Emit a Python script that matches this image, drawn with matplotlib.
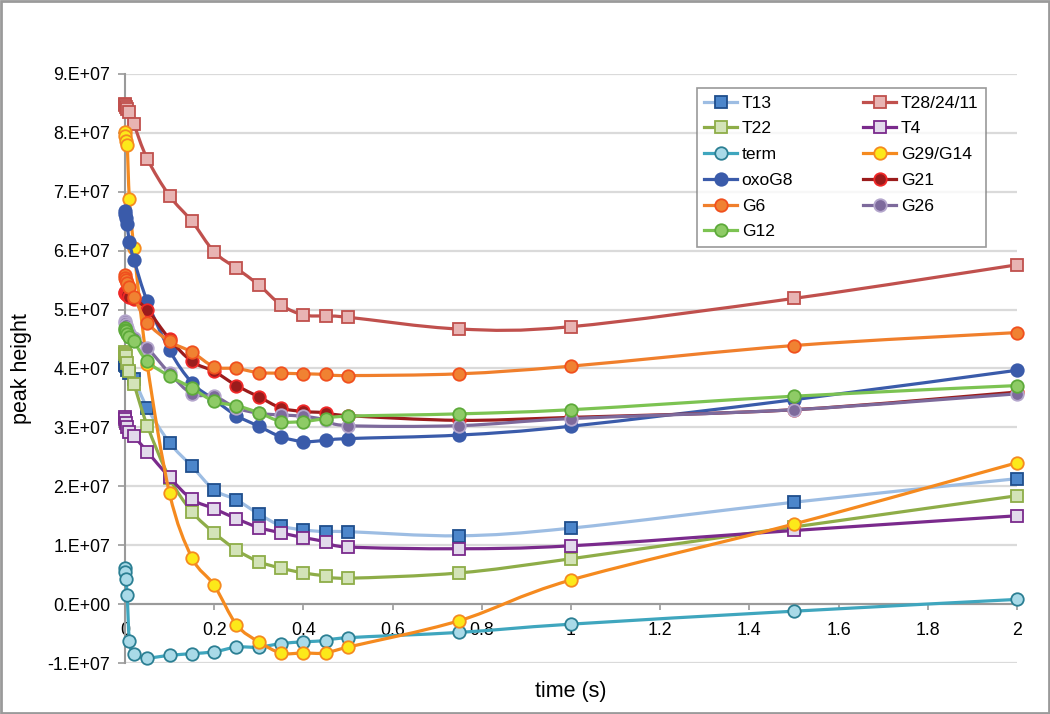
"""
Peak height vs time, smoothed Excel-style lines with markers.
"""
import matplotlib

matplotlib.use('Agg')

import matplotlib.pyplot as plt
import numpy as np
from matplotlib.lines import Line2D
from matplotlib.patches import PathPatch, Rectangle
from matplotlib.path import Path

plt.rcParams['font.family'] = ['Liberation Sans', 'DejaVu Sans']

# ---------------------------------------------------------------------------
# data (peak height in units of 1e7)
# ---------------------------------------------------------------------------
SCALE = 1e7
time_s = [0, 0.001, 0.002, 0.005, 0.01, 0.02, 0.05, 0.1, 0.15, 0.2, 0.25,
          0.3, 0.35, 0.4, 0.45, 0.5, 0.75, 1, 1.5, 2]

t13 = [4.08, 4.06, 4.04, 3.98, 3.92, 3.83, 3.33, 2.74, 2.34, 1.94, 1.77,
       1.53, 1.33, 1.26, 1.23, 1.23, 1.16, 1.29, 1.73, 2.13]
t28 = [8.49, 8.47, 8.44, 8.40, 8.36, 8.15, 7.56, 6.93, 6.50, 5.98, 5.70,
       5.42, 5.08, 4.91, 4.89, 4.87, 4.67, 4.71, 5.19, 5.76]
t22 = [4.28, 4.25, 4.22, 4.10, 3.95, 3.74, 3.03, 2.14, 1.57, 1.21, 0.92,
       0.72, 0.61, 0.53, 0.48, 0.44, 0.53, 0.77, 1.31, 1.84]
t4 = [3.18, 3.14, 3.08, 3.00, 2.93, 2.85, 2.59, 2.15, 1.78, 1.62, 1.45,
      1.30, 1.21, 1.13, 1.06, 0.97, 0.94, 0.99, 1.25, 1.50]
term = [0.62, 0.55, 0.42, 0.15, -0.62, -0.84, -0.91, -0.87, -0.84, -0.81,
        -0.73, -0.73, -0.67, -0.64, -0.62, -0.57, -0.48, -0.34, -0.12, 0.08]
g29 = [8.02, 7.95, 7.86, 7.80, 6.87, 6.05, 4.07, 1.88, 0.79, 0.32, -0.35,
       -0.64, -0.83, -0.83, -0.83, -0.73, -0.28, 0.41, 1.36, 2.40]
oxog8 = [6.67, 6.62, 6.56, 6.45, 6.14, 5.85, 5.14, 4.31, 3.76, 3.47, 3.20,
         3.02, 2.84, 2.76, 2.78, 2.81, 2.87, 3.02, 3.47, 3.97]
g21 = [5.30, 5.28, 5.26, 5.24, 5.22, 5.18, 5.00, 4.50, 4.12, 3.95, 3.71,
       3.52, 3.33, 3.27, 3.25, 3.20, 3.12, 3.17, 3.30, 3.60]
g6 = [5.58, 5.54, 5.50, 5.45, 5.38, 5.22, 4.78, 4.46, 4.28, 4.03, 4.00,
      3.93, 3.92, 3.91, 3.90, 3.88, 3.91, 4.04, 4.39, 4.61]
g26 = [4.80, 4.78, 4.74, 4.68, 4.60, 4.52, 4.35, 3.92, 3.57, 3.53, 3.33,
       3.24, 3.21, 3.19, 3.13, 3.03, 3.03, 3.15, 3.30, 3.57]
g12 = [4.68, 4.66, 4.63, 4.58, 4.53, 4.46, 4.12, 3.87, 3.67, 3.44, 3.37,
       3.25, 3.10, 3.10, 3.15, 3.19, 3.23, 3.30, 3.53, 3.71]

y_ticks = [-1, 0, 1, 2, 3, 4, 5, 6, 7, 8, 9]
y_tick_labels = ['-1.E+07', '0.E+00', '1.E+07', '2.E+07', '3.E+07', '4.E+07',
                 '5.E+07', '6.E+07', '7.E+07', '8.E+07', '9.E+07']
x_ticks = [0, 0.2, 0.4, 0.6, 0.8, 1, 1.2, 1.4, 1.6, 1.8, 2]
x_tick_labels = ['0', '0.2', '0.4', '0.6', '0.8', '1', '1.2', '1.4', '1.6',
                 '1.8', '2']

# series in Excel drawing order: (label, values, marker, line, face, edge)
SERIES = [
    ('T13', t13, 's', '#9DBDE3', '#4C86CB', '#1F4E8C'),
    ('T28/24/11', t28, 's', '#C0504D', '#E8B4B3', '#C0504D'),
    ('T22', t22, 's', '#8EAD48', '#D3E3B8', '#8EAD48'),
    ('T4', t4, 's', '#7A2A8C', '#E2DAEB', '#7A2A8C'),
    ('term', term, 'o', '#3FA6BE', '#A9DAE8', '#2B7F93'),
    ('G29/G14', g29, 'o', '#F58A1F', '#FCE91A', '#F58A1F'),
    ('oxoG8', oxog8, 'o', '#3A5BAA', '#3A5BAA', '#3A5BAA'),
    ('G21', g21, 'o', '#9B1C1C', '#9B1C1C', '#F02828'),
    ('G6', g6, 'o', '#F07F2C', '#F08232', '#F0501E'),
    ('G26', g26, 'o', '#7D6A9C', '#7D6A9C', '#B4A6CC'),
    ('G12', g12, 'o', '#7CC352', '#8ECB66', '#5DAA3A'),
]


def smooth_path(x, y):
    """Catmull-Rom style cubic Bezier through the points (Excel 'smoothed line')."""
    pts = np.column_stack([x, y])
    verts = [pts[0]]
    codes = [Path.MOVETO]
    n = len(pts)
    for i in range(n - 1):
        p0 = pts[i - 1] if i > 0 else pts[i]
        p1 = pts[i]
        p2 = pts[i + 1]
        p3 = pts[i + 2] if i + 2 < n else pts[i + 1]
        verts += [p1 + (p2 - p0) / 6.0, p2 - (p3 - p1) / 6.0, p2]
        codes += [Path.CURVE4] * 3
    return Path(verts, codes)


fig = plt.figure(figsize=(10.5, 7.14), dpi=100)
ax = fig.add_axes([0.119, 0.0714, 0.8496, 0.825])

x = np.asarray(time_s)
handles = {}
for i, (label, vals, marker, lc, fc, ec) in enumerate(SERIES):
    y = np.asarray(vals) * SCALE
    z = 3 + i * 0.1
    ax.add_patch(PathPatch(smooth_path(x, y), facecolor='none', edgecolor=lc,
                           linewidth=2.3, zorder=z, capstyle='round',
                           joinstyle='round'))
    ms = 8.2 if marker == 's' else 9.0
    ax.plot(x, y, linestyle='none', marker=marker, markersize=ms,
            markerfacecolor=fc, markeredgecolor=ec, markeredgewidth=1.3,
            zorder=z + 0.05, clip_on=False)
    handles[label] = Line2D([], [], color=lc, linewidth=2.3, marker=marker,
                            markersize=ms, markerfacecolor=fc,
                            markeredgecolor=ec, markeredgewidth=1.3)

ax.set_xlim(0, 2)
ax.set_ylim(-1 * SCALE, 9 * SCALE)
ax.set_yticks(np.asarray(y_ticks) * SCALE)
ax.set_yticklabels(y_tick_labels)
ax.set_xticks(x_ticks)
ax.set_xticklabels(x_tick_labels)

for s in ('top', 'right'):
    ax.spines[s].set_visible(False)
ax.spines['bottom'].set_position(('data', 0))
for s in ('left', 'bottom'):
    ax.spines[s].set_color('#9A9A9A')
    ax.spines[s].set_linewidth(1.5)
    ax.spines[s].set_zorder(2.5)

ax.grid(axis='y', color='#DADADA', linewidth=1.6, zorder=0)
ax.set_axisbelow(True)
ax.tick_params(axis='y', direction='out', length=5, width=1.2,
               color='#9A9A9A', labelsize=12.8, pad=5.5)
ax.tick_params(axis='x', direction='out', length=4, width=1.2,
               color='#9A9A9A', labelsize=12.8, pad=9)

ax.set_xlabel('time (s)', fontsize=15.5)
ax.set_ylabel('peak height', fontsize=15.5)
ax.xaxis.set_label_coords(0.5, -0.049)
ax.xaxis.label.set_va('center')
ax.yaxis.set_label_coords(-0.1155, 0.5)
ax.yaxis.label.set_va('center')

# legend: Excel fills rows, matplotlib fills columns
col1 = ['T13', 'T22', 'term', 'oxoG8', 'G6', 'G12']
col2 = ['T28/24/11', 'T4', 'G29/G14', 'G21', 'G26']
order = col1 + col2
leg = ax.legend([handles[k] for k in order], order, ncol=2,
                loc='upper left', bbox_to_anchor=(0.641, 0.976),
                borderaxespad=0, fontsize=12.6, frameon=True, fancybox=False,
                handlelength=1.9, handletextpad=0.25, columnspacing=4.0,
                labelspacing=0.6, borderpad=0.42)
leg.get_frame().set_edgecolor('#808080')
leg.get_frame().set_linewidth(1.2)
leg.set_zorder(10)

fig.patches.append(Rectangle((0.001, 0.001), 0.998, 0.998,
                             transform=fig.transFigure, fill=False,
                             edgecolor='#9A9A9A', linewidth=2))

fig.savefig('out.png', dpi=100)
